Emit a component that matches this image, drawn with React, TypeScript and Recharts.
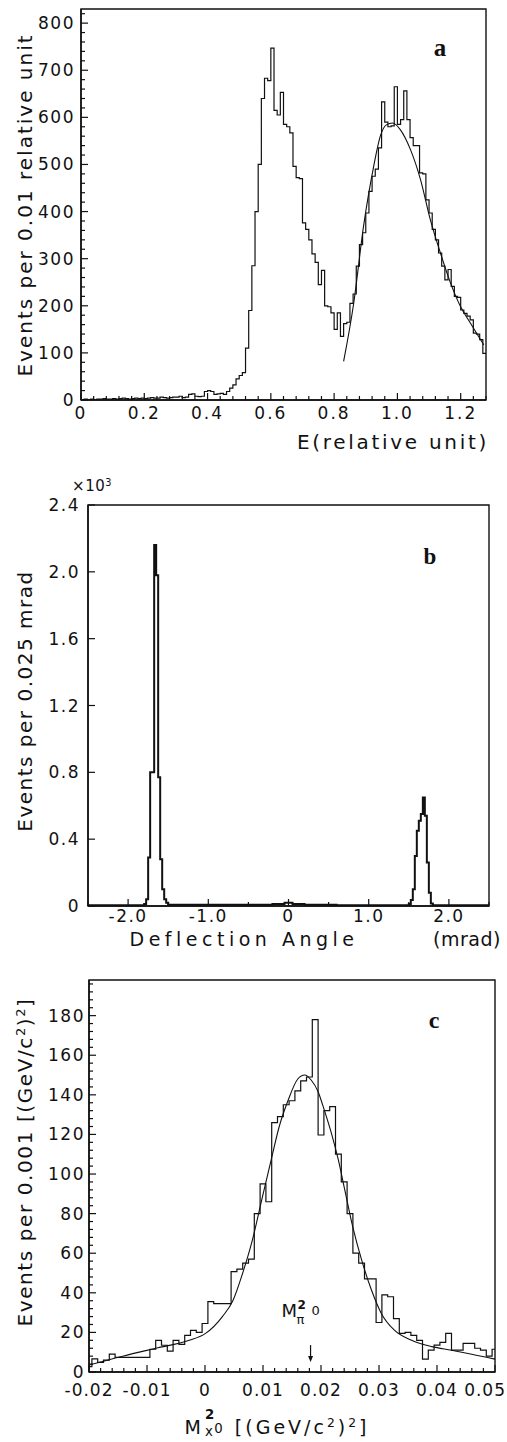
import React from "react";
import {
  LineChart,
  Line,
  XAxis,
  YAxis,
  ReferenceArea,
  ReferenceLine,
  ReferenceDot,
} from "recharts";

const SANS = '"DejaVu Sans", Verdana, sans-serif';
const SERIF = '"Liberation Serif", "DejaVu Serif", serif';
const INK = "#111";

// ---------- panel a: energy spectrum, bins of 0.01 from 0 ----------
const aBinWidth = 0.01;
const aCounts = [
  1, 2, 1, 2, 1, 2, 2, 3, 2, 2,
  3, 2, 3, 4, 3, 2, 3, 4, 3, 4,
  3, 4, 5, 4, 4, 6, 5, 4, 5, 6,
  6, 8, 5, 6, 12, 13, 8, 7, 8, 18,
  20, 18, 12, 13, 14, 12, 18, 25, 32, 45,
  52, 58, 110, 190, 285, 400, 500, 640, 683, 678,
  747, 615, 605, 653, 585, 580, 567, 496, 472, 470,
  376, 362, 340, 310, 292, 245, 275, 200, 198, 185,
  150, 185, 135, 162, 165, 205, 225, 284, 330, 355,
  397, 443, 475, 490, 535, 633, 590, 580, 582, 665,
  585, 595, 656, 595, 557, 540, 540, 482, 480, 425,
  397, 362, 340, 312, 284, 255, 277, 241, 220, 218,
  191, 184, 178, 170, 142, 140, 128, 99,
];
const aFitE = [0.83, 0.862, 0.893, 0.925, 0.946, 0.965, 0.985, 1.009, 1.041, 1.073, 1.104, 1.136, 1.168, 1.199, 1.231, 1.263, 1.273];
const aFitN = [82, 206, 369, 496, 560, 584, 588, 574, 532, 468, 383, 312, 248, 199, 163, 128, 117];
const aDomainX = [0, 1.28];
const aDomainY = [0, 830];
const aMajorX = [0, 0.2, 0.4, 0.6, 0.8, 1.0, 1.2];
const aMajorY = [0, 100, 200, 300, 400, 500, 600, 700, 800];

// ---------- panel b: deflection angle (x10^3 events) ----------
const bEdges = [
  -2.5, -1.8, -1.775, -1.75, -1.725, -1.7, -1.675, -1.65, -1.625, -1.6, -1.575, -1.55, -1.525,
  -1.5, -0.2, -0.05, 0.05, 0.2, 0.6, 1.5,
  1.525, 1.55, 1.575, 1.6, 1.625, 1.65, 1.675, 1.7, 1.725, 1.75, 1.775, 1.8,
];
const bCounts = [
  0.005, 0.012, 0.04, 0.29, 0.8, 0.8, 2.16, 1.98, 0.77, 0.28, 0.1, 0.04, 0.02,
  0.008, 0.012, 0.02, 0.012, 0.008, 0.005, 0.012,
  0.036, 0.1, 0.3, 0.45, 0.51, 0.55, 0.65, 0.54, 0.26, 0.08, 0.015, 0.004,
];
const bDomainX = [-2.5, 2.5];
const bDomainY = [0, 2.4];
const bMajorX = [-2, -1, 0, 1, 2];
const bMajorY = [0, 0.4, 0.8, 1.2, 1.6, 2.0, 2.4];

// ---------- panel c: missing mass squared, bins of 0.001 centred on -0.020 ... 0.050 ----------
const cFirstCentre = -0.02;
const cBinWidth = 0.001;
const cCounts = [
  2.7, 6.6, 4.9, 6, 9, 7.4, 7.4, 7.4, 7.4, 7.4,
  7.4, 11.5, 16, 13.5, 10.5, 16, 14, 18.5, 21, 20,
  24.5, 35.5, 34.5, 34.5, 34.5, 50.7, 52, 55, 57, 80,
  95, 86, 126, 129, 135, 137, 142, 147, 149, 178,
  119.7, 132, 134, 110, 96, 80, 60, 55, 47, 47,
  25, 39, 38, 27, 19.5, 20, 18.5, 16, 6.5, 11,
  13.6, 15, 19.5, 11, 11, 14.5, 14.5, 12, 11, 8,
  11.5,
];
const cFitM = [-0.02, -0.0142, -0.0085, -0.0027, 0.0001, 0.003, 0.0048, 0.0065, 0.0082, 0.0099, 0.0114, 0.0128, 0.0143, 0.016, 0.0172, 0.0183, 0.0195, 0.0206, 0.0218, 0.023, 0.0241, 0.0255, 0.027, 0.0287, 0.0304, 0.0327, 0.0356, 0.0391, 0.0425, 0.046, 0.05];
const cFitN = [3.5, 8, 12, 16, 19.5, 28, 36, 50, 67, 88.5, 107, 124, 137, 148, 150, 147.5, 141.6, 132, 120.5, 107, 92, 73, 56.6, 41.4, 29.6, 21, 16, 12.8, 11, 9, 6.5];
const cDomainX = [-0.02, 0.05];
const cDomainY = [0, 198];
const cMajorX = [-0.02, -0.01, 0, 0.01, 0.02, 0.03, 0.04, 0.05];
const cMajorY = [0, 20, 40, 60, 80, 100, 120, 140, 160, 180];
const piMass2 = 0.0182;
const piArrow = [13.6, 5];
const piLabelY = 27.8;

// ---------- helpers ----------
const steps = (start: number, stop: number, step: number) => {
  const out: number[] = [];
  for (let v = start; v <= stop + step / 1000; v += step) out.push(+v.toFixed(6));
  return out;
};
const isMajor = (majors: number[], v: number) => majors.some((m) => Math.abs(m - v) < 1e-9);

const aHist = [
  ...aCounts.map((n, i) => ({ x: i * aBinWidth, y: n })),
  { x: aDomainX[1], y: aCounts[aCounts.length - 1] },
];
const aFit = aFitE.map((e, i) => ({ x: e, y: aFitN[i] }));

const bHist = [
  ...bEdges.map((e, i) => ({ x: e, y: bCounts[i] })),
  { x: bDomainX[1], y: bCounts[bCounts.length - 1] },
];

const cHist = [
  ...cCounts.map((n, i) => ({
    x: Math.max(cDomainX[0], +(cFirstCentre + i * cBinWidth - cBinWidth / 2).toFixed(6)),
    y: n,
  })),
  { x: cDomainX[1], y: cCounts[cCounts.length - 1] },
];
const cFit = cFitM.map((m, i) => ({ x: m, y: cFitN[i] }));

// page is 507 wide; keep the rightmost tick label inside it
const RIGHT_EDGE = 506;

function xTick(majors: number[], fmt: (v: number) => string, dy: number, spacing = 1.5) {
  return (p: any) => {
    const v = p.payload.value;
    const big = isMajor(majors, v);
    const label = fmt(v);
    const half = label.length * 5.5;
    const atEdge = p.x + half > RIGHT_EDGE;
    return (
      <g>
        <line x1={p.x} x2={p.x} y1={p.y} y2={p.y - (big ? 7 : 4)} stroke={INK} strokeWidth={1.2} />
        {big && (
          <text
            x={atEdge ? RIGHT_EDGE : p.x}
            y={p.y + dy}
            textAnchor={atEdge ? "end" : "middle"}
            fontFamily={SANS}
            fontSize={17}
            letterSpacing={spacing}
            fill={INK}
          >
            {label}
          </text>
        )}
      </g>
    );
  };
}

function yTick(majors: number[], fmt: (v: number) => string, gap: number) {
  return (p: any) => {
    const v = p.payload.value;
    const big = isMajor(majors, v);
    return (
      <g>
        <line x1={p.x} x2={p.x + (big ? 7 : 4)} y1={p.y} y2={p.y} stroke={INK} strokeWidth={1.2} />
        {big && (
          <text x={p.x - gap} y={p.y + 6} textAnchor="end" fontFamily={SANS} fontSize={17} letterSpacing={1.5} fill={INK}>
            {fmt(v)}
          </text>
        )}
      </g>
    );
  };
}

function Txt({ cx, cy, size = 20, spacing = 0, rotate = false, style, children }: any) {
  return (
    <div
      style={{
        position: "absolute",
        left: cx,
        top: cy,
        transform: `translate(-50%, -50%)${rotate ? " rotate(-90deg)" : ""}`,
        whiteSpace: "nowrap",
        fontSize: size,
        letterSpacing: spacing,
        lineHeight: 1,
        ...style,
      }}
    >
      {children}
    </div>
  );
}

const Sup = ({ children }: any) => (
  <span style={{ fontSize: "0.65em", position: "relative", top: "-0.55em" }}>{children}</span>
);

const PionLabel = (p: any) => (
  <g fontFamily={SANS} fill={INK}>
    <text x={p.cx - 29} y={p.cy} fontSize={18}>M</text>
    <text x={p.cx - 13} y={p.cy - 8} fontSize={12} fontWeight="bold">2</text>
    <text x={p.cx - 14} y={p.cy + 7} fontSize={13}>π</text>
    <text x={p.cx + 1} y={p.cy - 2} fontSize={13}>0</text>
  </g>
);

const ArrowHead = (p: any) => (
  <path d={`M${p.cx - 2.5},${p.cy - 6}L${p.cx + 2.5},${p.cy - 6}L${p.cx},${p.cy}Z`} fill={INK} />
);

const axisLine = { stroke: INK, strokeWidth: 1.5 };

function PanelA() {
  return (
    <LineChart width={507} height={460} margin={{ top: 9, right: 21, bottom: 30, left: 0 }}>
      <XAxis
        type="number"
        dataKey="x"
        domain={aDomainX}
        allowDataOverflow
        ticks={steps(0, 1.28, 0.04)}
        interval={0}
        tickSize={0}
        tickMargin={0}
        tickLine={false}
        axisLine={axisLine}
        height={30}
        tick={xTick(aMajorX, (v) => (v === 0 ? "0" : v.toFixed(1)), 19, 2)}
      />
      <YAxis
        type="number"
        domain={aDomainY}
        allowDataOverflow
        ticks={steps(0, 820, 20)}
        interval={0}
        tickSize={0}
        tickMargin={0}
        tickLine={false}
        axisLine={axisLine}
        width={81}
        tick={yTick(aMajorY, (v) => String(v), 6)}
      />
      <ReferenceArea x1={aDomainX[0]} x2={aDomainX[1]} y1={aDomainY[0]} y2={aDomainY[1]} fill="none" stroke={INK} strokeWidth={1.4} ifOverflow="visible" />
      <Line data={aHist} dataKey="y" type="stepAfter" stroke={INK} strokeWidth={1.2} dot={false} activeDot={false} isAnimationActive={false} />
      <Line data={aFit} dataKey="y" type="monotone" stroke={INK} strokeWidth={1.1} dot={false} activeDot={false} isAnimationActive={false} />
    </LineChart>
  );
}

function PanelB() {
  return (
    <LineChart width={507} height={475} margin={{ top: 35, right: 18, bottom: 19, left: 0 }}>
      <XAxis
        type="number"
        dataKey="x"
        domain={bDomainX}
        allowDataOverflow
        ticks={steps(-2.5, 2.5, 0.5)}
        interval={0}
        tickSize={0}
        tickMargin={0}
        tickLine={false}
        axisLine={axisLine}
        height={20}
        tick={xTick(bMajorX, (v) => (v === 0 ? "0" : v.toFixed(1)), 16)}
      />
      <YAxis
        type="number"
        domain={bDomainY}
        allowDataOverflow
        ticks={bMajorY}
        interval={0}
        tickSize={0}
        tickMargin={0}
        tickLine={false}
        axisLine={axisLine}
        width={88}
        tick={yTick(bMajorY, (v) => (v === 0 ? "0" : v.toFixed(1)), 8)}
      />
      <ReferenceArea x1={bDomainX[0]} x2={bDomainX[1]} y1={bDomainY[0]} y2={bDomainY[1]} fill="none" stroke={INK} strokeWidth={1.4} ifOverflow="visible" />
      <Line data={bHist} dataKey="y" type="stepAfter" stroke={INK} strokeWidth={2} dot={false} activeDot={false} isAnimationActive={false} />
    </LineChart>
  );
}

function PanelC() {
  return (
    <LineChart width={507} height={492} margin={{ top: 30, right: 12, bottom: 40, left: 0 }}>
      <XAxis
        type="number"
        dataKey="x"
        domain={cDomainX}
        allowDataOverflow
        ticks={steps(-0.02, 0.05, 0.002)}
        interval={0}
        tickSize={0}
        tickMargin={0}
        tickLine={false}
        axisLine={axisLine}
        height={30}
        tick={xTick(cMajorX, (v) => (v === 0 ? "0" : v.toFixed(2)), 24, 1)}
      />
      <YAxis
        type="number"
        domain={cDomainY}
        allowDataOverflow
        ticks={steps(0, 196, 4)}
        interval={0}
        tickSize={0}
        tickMargin={0}
        tickLine={false}
        axisLine={axisLine}
        width={89}
        tick={yTick(cMajorY, (v) => String(v), 4)}
      />
      <ReferenceArea x1={cDomainX[0]} x2={cDomainX[1]} y1={cDomainY[0]} y2={cDomainY[1]} fill="none" stroke={INK} strokeWidth={1.4} ifOverflow="visible" />
      <Line data={cHist} dataKey="y" type="stepAfter" stroke={INK} strokeWidth={1.2} dot={false} activeDot={false} isAnimationActive={false} />
      <Line data={cFit} dataKey="y" type="monotone" stroke={INK} strokeWidth={1.1} dot={false} activeDot={false} isAnimationActive={false} />
      <ReferenceLine segment={[{ x: piMass2, y: piArrow[0] }, { x: piMass2, y: piArrow[1] + 1 }]} stroke={INK} strokeWidth={1.2} />
      <ReferenceDot x={piMass2} y={piArrow[1]} r={0} shape={ArrowHead} />
      <ReferenceDot x={piMass2} y={piLabelY} r={0} shape={PionLabel} />
    </LineChart>
  );
}

export default function App() {
  return (
    <div
      style={{
        position: "absolute",
        left: 0,
        top: 0,
        width: 507,
        height: 1442,
        background: "#fff",
        overflow: "hidden",
        fontFamily: SANS,
        color: INK,
      }}
    >
      <div style={{ position: "absolute", left: 0, top: 0 }}>
        <PanelA />
      </div>
      <div style={{ position: "absolute", left: 0, top: 470 }}>
        <PanelB />
      </div>
      <div style={{ position: "absolute", left: 0, top: 950 }}>
        <PanelC />
      </div>

      {/* panel a texts */}
      <Txt cx={25} cy={205} size={20} spacing={2} rotate>
        Events per 0.01 relative unit
      </Txt>
      <Txt cx={393} cy={442} size={20} spacing={2.7}>
        E(relative unit)
      </Txt>
      <Txt cx={440} cy={47} size={25} style={{ fontFamily: SERIF, fontWeight: "bold" }}>
        a
      </Txt>

      {/* panel b texts */}
      <Txt cx={92} cy={486} size={15} spacing={0.5}>
        ×10<Sup>3</Sup>
      </Txt>
      <Txt cx={25} cy={701} size={20} spacing={1.5} rotate>
        Events per 0.025 mrad
      </Txt>
      <Txt cx={244} cy={939} size={19} spacing={4.5}>
        Deflection Angle
      </Txt>
      <Txt cx={467} cy={939} size={19} spacing={0.5}>
        (mrad)
      </Txt>
      <Txt cx={430} cy={556} size={23} style={{ fontFamily: SERIF, fontWeight: "bold" }}>
        b
      </Txt>

      {/* panel c texts */}
      <Txt cx={25} cy={1162} size={20} spacing={1.6} rotate>
        Events per 0.001 [(GeV/c<Sup>2</Sup>)<Sup>2</Sup>]
      </Txt>
      <Txt cx={277} cy={1426} size={19} spacing={3}>
        M
        <span style={{ display: "inline-block", position: "relative", width: "0.55em", height: "1em", verticalAlign: "baseline" }}>
          <span style={{ position: "absolute", left: 1, top: "-0.5em", fontSize: "0.7em", fontWeight: "bold" }}>2</span>
          <span style={{ position: "absolute", left: 1, top: "0.75em", fontSize: "0.7em" }}>x</span>
        </span>
        <span style={{ fontSize: "0.7em", position: "relative", top: "-0.05em" }}>0</span> [(GeV/c<Sup>2</Sup>)<Sup>2</Sup>]
      </Txt>
      <Txt cx={434} cy={1020} size={24} style={{ fontFamily: SERIF, fontWeight: "bold" }}>
        c
      </Txt>
    </div>
  );
}
